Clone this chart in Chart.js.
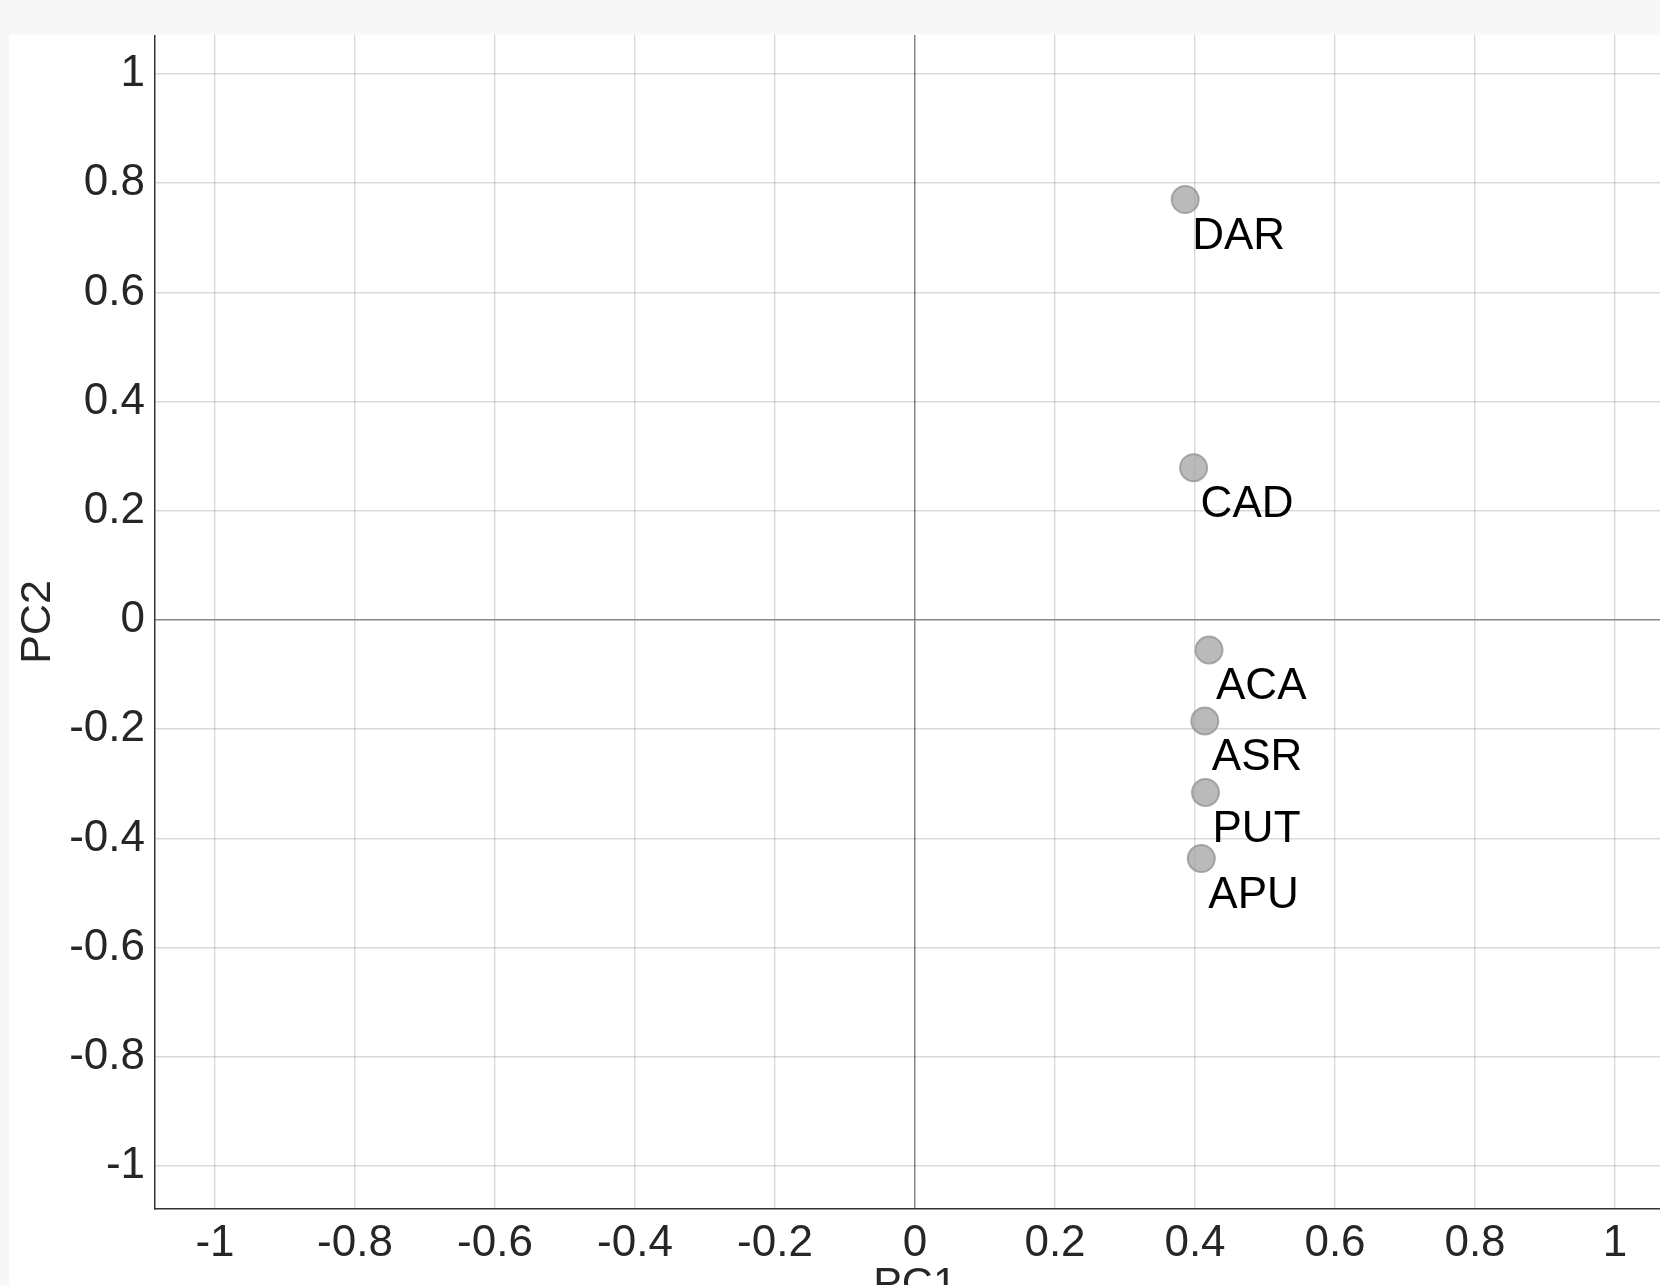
<!DOCTYPE html>
<html>
<head>
<meta charset="utf-8">
<script src="https://cdn.jsdelivr.net/npm/chart.js@4.4.1/dist/chart.umd.min.js"></script>
<style>
  html, body { margin: 0; padding: 0; background: #f7f7f7; overflow: hidden; width: 1660px; height: 1285px; }
  #panel { position: absolute; left: 9px; top: 35px; width: 1700px; height: 1300px; background: #ffffff; }
  #wrap { position: absolute; left: 0; top: 0; width: 1680px; height: 1280px; }
</style>
</head>
<body>
<div id="panel"><div id="wrap"><canvas id="c"></canvas></div></div>
<script>
const labels = ["DAR", "CAD", "ACA", "ASR", "PUT", "APU"];
const pc1 = [0.386, 0.398, 0.420, 0.414, 0.415, 0.409];
const pc2 = [0.770, 0.279, -0.055, -0.185, -0.316, -0.437];
const xTicks = [-1, -0.8, -0.6, -0.4, -0.2, 0, 0.2, 0.4, 0.6, 0.8, 1];
const yTicks = [-1, -0.8, -0.6, -0.4, -0.2, 0, 0.2, 0.4, 0.6, 0.8, 1];

const FONT = "'Liberation Sans', Arial, Helvetica, sans-serif";

const pointLabels = {
  id: 'pointLabels',
  afterDatasetsDraw(chart) {
    const meta = chart.getDatasetMeta(0);
    const ctx = chart.ctx;
    ctx.save();
    ctx.font = "44px " + FONT;
    ctx.fillStyle = "#000000";
    ctx.textAlign = "left";
    ctx.textBaseline = "alphabetic";
    meta.data.forEach((el, i) => {
      ctx.fillText(labels[i], el.x + 7, el.y + 49);
    });
    ctx.restore();
  }
};

const gridColor = (ctx) => (ctx.tick && ctx.tick.value === 0) ? '#858585' : 'rgba(0,0,0,0.15)';
const gridWidth = (ctx) => (ctx.tick && ctx.tick.value === 0) ? 1.5 : 1.4;

new Chart(document.getElementById('c'), {
  type: 'scatter',
  data: {
    datasets: [{
      data: pc1.map((x, i) => ({ x: x, y: pc2[i] })),
      backgroundColor: 'rgba(160,160,160,0.72)',
      borderColor: 'rgba(145,145,145,0.75)',
      borderWidth: 2,
      pointRadius: 13.5,
      pointHoverRadius: 13.5
    }]
  },
  options: {
    responsive: true,
    maintainAspectRatio: false,
    animation: false,
    events: [],
    layout: { autoPadding: false, padding: { top: 0, right: 14, bottom: 0, left: 0 } },
    plugins: { legend: { display: false }, tooltip: { enabled: false } },
    scales: {
      x: {
        type: 'linear',
        min: -1.0857,
        max: 1.0857,
        afterBuildTicks: (s) => { s.ticks = xTicks.map(v => ({ value: v })); },
        afterFit: (s) => { s.height = 106; s.paddingLeft = 0; s.paddingRight = 0; },
        grid: { color: gridColor, lineWidth: gridWidth, drawTicks: false },
        border: { display: true, color: '#333333', width: 1.5 },
        ticks: { color: '#262626', font: { family: FONT, size: 44 }, padding: 8, maxRotation: 0, autoSkip: false,
                 callback: (v) => String(v) },
        title: { display: true, text: 'PC1', color: '#262626', font: { family: FONT, size: 43 }, padding: { top: 0, bottom: 4 } }
      },
      y: {
        type: 'linear',
        min: -1.0788,
        max: 1.0714,
        afterBuildTicks: (s) => { s.ticks = yTicks.map(v => ({ value: v })); },
        afterFit: (s) => { s.width = 146; s.paddingTop = 0; s.paddingBottom = 0; },
        grid: { color: gridColor, lineWidth: gridWidth, drawTicks: false },
        border: { display: true, color: '#333333', width: 1.5 },
        ticks: { color: '#262626', font: { family: FONT, size: 44 }, padding: 10, autoSkip: false,
                 callback: (v) => String(v) },
        title: { display: true, text: 'PC2', color: '#262626', font: { family: FONT, size: 43 }, padding: { top: 3, bottom: 0 } }
      }
    }
  },
  plugins: [pointLabels]
});
</script>
</body>
</html>
